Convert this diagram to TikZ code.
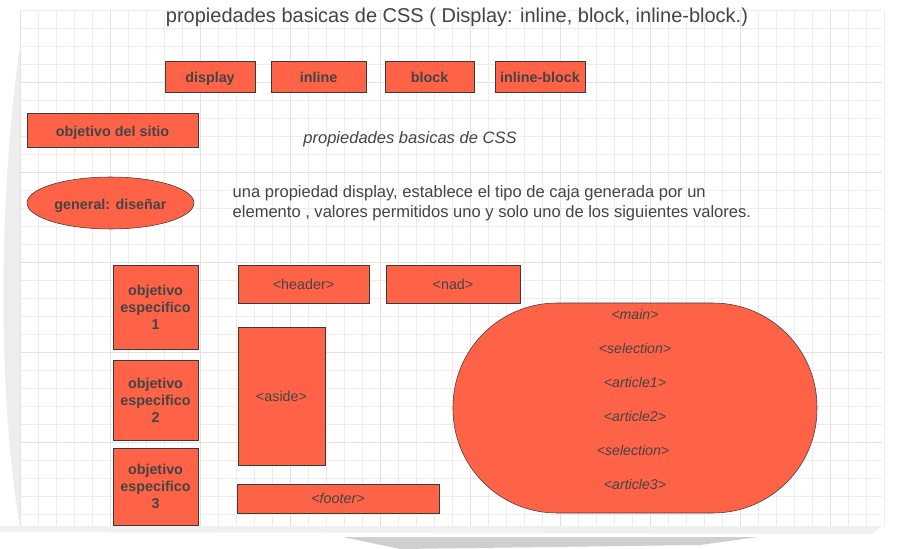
\documentclass[tikz,border=0pt]{standalone}
\usepackage{fontspec}
\setmainfont{Liberation Sans}
\usetikzlibrary{shapes.geometric}
\definecolor{tomato}{RGB}{255,99,71}
\definecolor{ink}{RGB}{68,68,68}
\definecolor{edge}{RGB}{58,58,58}
\definecolor{gridminor}{RGB}{237,237,237}
\definecolor{gridmajor}{RGB}{226,226,226}
\begin{document}
\begin{tikzpicture}[x=0.75pt, y=-0.75pt,
    box/.style={draw=edge, fill=tomato, text=ink, inner sep=1pt, align=center,
        font=\bfseries\fontsize{10.75}{12.75}\selectfont},
    single/.style={text height=1.9ex, text depth=.15ex},
    tag/.style={box, font=\fontsize{10.75}{12}\selectfont},
    menu/.style={box, single, minimum height=23.25pt},
    goal/.style={box, minimum width=63.75pt},
    inner/.style={text=ink, font=\itshape\fontsize{10.6}{12}\selectfont}]
    \useasboundingbox[fill=white] (0,0) rectangle (907,549);

    % page and its shadow
    \fill[gray!14] (20,46) .. controls (-2,200) and (-2,400) .. (20,526) -- cycle;
    \fill[gray!12] (0,526) -- (882,526) -- (872,534) -- (0,532) -- cycle;
    \fill[gray!38] (343,537) -- (758,537) -- (700,545) -- (400,549) -- cycle;
    \foreach \x in {20,38,...,884}
        \draw[gridminor] (\x,10) -- (\x,526);
    \foreach \y in {10,28,...,526}
        \draw[gridminor] (20,\y) -- (882,\y);
    \foreach \x in {20,110,...,884}
        \draw[gridmajor] (\x,10) -- (\x,526);
    \foreach \y in {82,172,...,526}
        \draw[gridmajor] (20,\y) -- (882,\y);

    \node[text=ink, font=\fontsize{15}{18}\selectfont] (title) at (457,17)
    {propiedades basicas de CSS ( Display: inline, block, inline-block.)};

    \node[menu, minimum width=67.5pt] (display) at (210,76.5) {display};
    \node[menu, minimum width=71.25pt] (inline) at (318.5,76.5) {inline};
    \node[menu, minimum width=66.75pt] (block) at (429.5,76.5) {block};
    \node[menu, minimum width=67.5pt] (inlineblock) at (540,76.5) {inline-block};

    \node[box, single, minimum width=128.25pt, minimum height=25.5pt] (sitio) at (112.5,130)
    {objetivo del sitio};
    \node[inner, font=\itshape\fontsize{12.4}{14}\selectfont] (subtitle) at (410,139)
    {propiedades basicas de CSS};

    \node[box, single, ellipse, minimum width=125.25pt, minimum height=39pt] (general)
        at (110.5,203) {general: diseñar};
    \node[text=ink, anchor=west, align=left, font=\fontsize{12.4}{15}\selectfont] (display text)
        at (228,203)
    {una propiedad display, establece el tipo de caja generada por un\\
     elemento , valores permitidos uno y solo uno de los siguientes valores.};

    \node[goal, minimum height=63pt] (goal1) at (155.5,307) {objetivo\\especifico\\1};
    \node[goal, minimum height=60pt] (goal2) at (155.5,400) {objetivo\\especifico\\2};
    \node[goal, minimum height=57.75pt] (goal3) at (155.5,486.5) {objetivo\\especifico\\3};

    \node[tag, minimum width=98.25pt, minimum height=28.5pt] (header) at (303.5,284) {<header>};
    \node[tag, minimum width=100.5pt, minimum height=28.5pt] (nad) at (453,284) {<nad>};
    \node[tag, minimum width=65.25pt, minimum height=103.5pt] (aside) at (281.5,396) {<aside>};
    \node[tag, font=\itshape\fontsize{10.75}{12}\selectfont, minimum width=151.5pt,
        minimum height=21.75pt] (footer) at (338,498.5) {<footer>};

    \node[box, rounded corners=78pt, minimum width=273pt, minimum height=157.5pt] (main)
        at (635,408) {};
    \node[inner] (main tag) at (635,314) {<main>};
    \node[inner] (selection1) at (635,348) {<selection>};
    \node[inner] (article1) at (635,382) {<article1>};
    \node[inner] (article2) at (635,416) {<article2>};
    \node[inner] (selection2) at (633,450) {<selection>};
    \node[inner] (article3) at (635,484) {<article3>};
\end{tikzpicture}
\end{document}
